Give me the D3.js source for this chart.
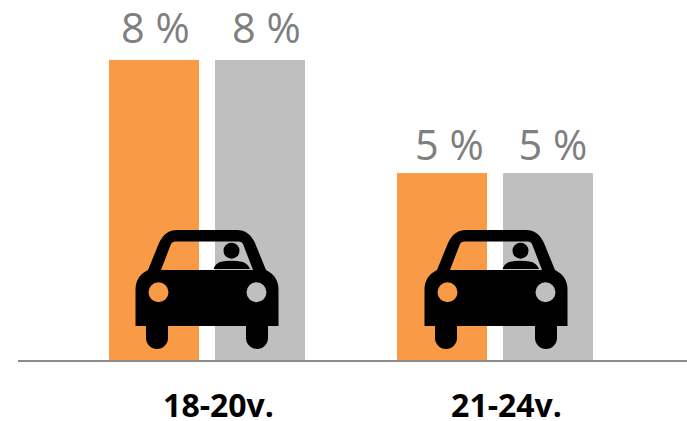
<!DOCTYPE html>
<html><head><meta charset="utf-8">
<script src="https://cdn.jsdelivr.net/npm/d3@7/dist/d3.min.js"></script>
<style>html,body{margin:0;padding:0;background:#fff;overflow:hidden}svg{display:block}</style>
</head><body><div id="c"></div>
<script>
const categories = ["18-20v.", "21-24v."];
const seriesNames = ["a", "b"];
const seriesA = [8, 5];
const seriesB = [8, 5];
const colors = ["#f99a47", "#bfbfbf"];
const labelShift = [[1.5, 6.5], [7.5, 5]];
const labelGap = [17, 13];
const carShift = [0, 1];

const W = 687, H = 421;
const svg = d3.select("#c").append("svg").attr("width", W).attr("height", H);
const x0 = d3.scaleBand().domain(categories).range([63, 639]);
const x1 = d3.scaleBand().domain(seriesNames).range([-98, 98]).paddingInner(16 / 106);
const y = d3.scaleLinear().domain([0, 8]).range([361.5, 60]);
const rows = categories.map((c, i) => ({c, vals: [seriesA[i], seriesB[i]]}));

const g = svg.selectAll("g.cat").data(rows).join("g").attr("class", "cat")
  .attr("transform", d => `translate(${x0(d.c) + x0.bandwidth() / 2},0)`);

g.selectAll("rect").data(d => d.vals).join("rect")
  .attr("x", (d, i) => x1(seriesNames[i]))
  .attr("width", x1.bandwidth())
  .attr("y", d => y(d))
  .attr("height", d => y(0) - y(d))
  .attr("fill", (d, i) => colors[i]);

g.each(function (d, ci) {
  d3.select(this).selectAll("text.val").data(d.vals).join("text").attr("class", "val")
    .attr("x", (v, i) => x1(seriesNames[i]) + x1.bandwidth() / 2 + labelShift[ci][i])
    .attr("y", v => y(v) - labelGap[ci])
    .attr("text-anchor", "middle")
    .attr("font-family", "'Open Sans'")
    .attr("font-weight", 400)
    .attr("font-size", 41.5)
    .attr("fill", "#7f7f7f")
    .text(v => v + " %");
});

// car icon, local coordinates about its own centre
const bodyFull = "M-71.5,28 V-8 Q-71.5,-22 -59,-28 L-48,-55 Q-42,-68 -30,-68 H30 Q42,-68 48,-55 L59,-28 Q71.5,-22 71.5,-8 V28 H61 V40 A11,11 0 0 1 39,40 V28 H-39 V40 A11,11 0 0 1 -61,40 V28 Z";
const win = "M-32,-56.5 H32 Q35,-56.5 36,-54 L46,-28 H-46 L-36,-54 Q-35,-56.5 -32,-56.5 Z";
const lights = "M-58.5,-5.7 a10,10 0 1 0 20,0 a10,10 0 1 0 -20,0 Z M39.5,-5.7 a10,10 0 1 0 20,0 a10,10 0 1 0 -20,0 Z";
const car = g.append("g").attr("transform", (d, i) => `translate(${carShift[i]},298)`);
car.append("path").attr("d", bodyFull + " " + win + " " + lights)
  .attr("fill-rule", "evenodd").attr("fill", "#000");
car.append("circle").attr("cx", 24.5).attr("cy", -47.3).attr("r", 8).attr("fill", "#000");
car.append("path")
  .attr("d", "M6.5,-29 Q8,-34 13,-36 Q24,-38.5 36,-36 Q41,-34 43,-29 Z").attr("fill", "#000");

svg.append("line").attr("x1", 18).attr("x2", W).attr("y1", 361).attr("y2", 361)
  .attr("stroke", "#8c8c8c").attr("stroke-width", 2);

svg.selectAll("text.cat").data(categories).join("text").attr("class", "cat")
  .attr("x", d => x0(d) + x0.bandwidth() / 2 + 11.5)
  .attr("y", 417)
  .attr("text-anchor", "middle")
  .attr("font-family", "'Open Sans'")
  .attr("font-weight", 700)
  .attr("font-size", 32)
  .attr("fill", "#000")
  .text(d => d);
</script></body></html>
